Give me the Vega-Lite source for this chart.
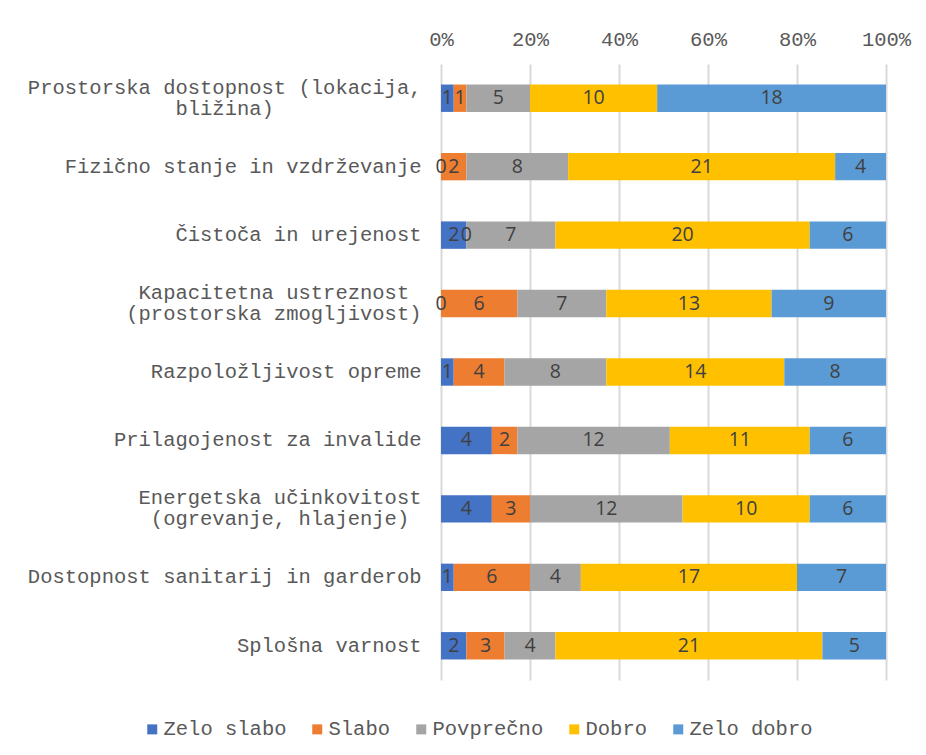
{
  "$schema": "https://vega.github.io/schema/vega-lite/v6.json",
  "width": 445,
  "height": 616,
  "autosize": {"type": "none"},
  "padding": {"left": 441, "top": 64, "right": 40, "bottom": 75},
  "background": "white",
  "config": {"view": {"stroke": null}},
  "data": {
    "values": [
      {"q": "Prostorska dostopnost (lokacija,|bližina)", "cat": "Zelo slabo", "r": 1, "v": 1},
      {"q": "Prostorska dostopnost (lokacija,|bližina)", "cat": "Slabo", "r": 2, "v": 1},
      {"q": "Prostorska dostopnost (lokacija,|bližina)", "cat": "Povprečno", "r": 3, "v": 5},
      {"q": "Prostorska dostopnost (lokacija,|bližina)", "cat": "Dobro", "r": 4, "v": 10},
      {"q": "Prostorska dostopnost (lokacija,|bližina)", "cat": "Zelo dobro", "r": 5, "v": 18},
      {"q": "Fizično stanje in vzdrževanje", "cat": "Zelo slabo", "r": 1, "v": 0},
      {"q": "Fizično stanje in vzdrževanje", "cat": "Slabo", "r": 2, "v": 2},
      {"q": "Fizično stanje in vzdrževanje", "cat": "Povprečno", "r": 3, "v": 8},
      {"q": "Fizično stanje in vzdrževanje", "cat": "Dobro", "r": 4, "v": 21},
      {"q": "Fizično stanje in vzdrževanje", "cat": "Zelo dobro", "r": 5, "v": 4},
      {"q": "Čistoča in urejenost", "cat": "Zelo slabo", "r": 1, "v": 2},
      {"q": "Čistoča in urejenost", "cat": "Slabo", "r": 2, "v": 0},
      {"q": "Čistoča in urejenost", "cat": "Povprečno", "r": 3, "v": 7},
      {"q": "Čistoča in urejenost", "cat": "Dobro", "r": 4, "v": 20},
      {"q": "Čistoča in urejenost", "cat": "Zelo dobro", "r": 5, "v": 6},
      {"q": "Kapacitetna ustreznost|(prostorska zmogljivost)", "cat": "Zelo slabo", "r": 1, "v": 0},
      {"q": "Kapacitetna ustreznost|(prostorska zmogljivost)", "cat": "Slabo", "r": 2, "v": 6},
      {"q": "Kapacitetna ustreznost|(prostorska zmogljivost)", "cat": "Povprečno", "r": 3, "v": 7},
      {"q": "Kapacitetna ustreznost|(prostorska zmogljivost)", "cat": "Dobro", "r": 4, "v": 13},
      {"q": "Kapacitetna ustreznost|(prostorska zmogljivost)", "cat": "Zelo dobro", "r": 5, "v": 9},
      {"q": "Razpoložljivost opreme", "cat": "Zelo slabo", "r": 1, "v": 1},
      {"q": "Razpoložljivost opreme", "cat": "Slabo", "r": 2, "v": 4},
      {"q": "Razpoložljivost opreme", "cat": "Povprečno", "r": 3, "v": 8},
      {"q": "Razpoložljivost opreme", "cat": "Dobro", "r": 4, "v": 14},
      {"q": "Razpoložljivost opreme", "cat": "Zelo dobro", "r": 5, "v": 8},
      {"q": "Prilagojenost za invalide", "cat": "Zelo slabo", "r": 1, "v": 4},
      {"q": "Prilagojenost za invalide", "cat": "Slabo", "r": 2, "v": 2},
      {"q": "Prilagojenost za invalide", "cat": "Povprečno", "r": 3, "v": 12},
      {"q": "Prilagojenost za invalide", "cat": "Dobro", "r": 4, "v": 11},
      {"q": "Prilagojenost za invalide", "cat": "Zelo dobro", "r": 5, "v": 6},
      {"q": "Energetska učinkovitost|(ogrevanje, hlajenje)", "cat": "Zelo slabo", "r": 1, "v": 4},
      {"q": "Energetska učinkovitost|(ogrevanje, hlajenje)", "cat": "Slabo", "r": 2, "v": 3},
      {"q": "Energetska učinkovitost|(ogrevanje, hlajenje)", "cat": "Povprečno", "r": 3, "v": 12},
      {"q": "Energetska učinkovitost|(ogrevanje, hlajenje)", "cat": "Dobro", "r": 4, "v": 10},
      {"q": "Energetska učinkovitost|(ogrevanje, hlajenje)", "cat": "Zelo dobro", "r": 5, "v": 6},
      {"q": "Dostopnost sanitarij in garderob", "cat": "Zelo slabo", "r": 1, "v": 1},
      {"q": "Dostopnost sanitarij in garderob", "cat": "Slabo", "r": 2, "v": 6},
      {"q": "Dostopnost sanitarij in garderob", "cat": "Povprečno", "r": 3, "v": 4},
      {"q": "Dostopnost sanitarij in garderob", "cat": "Dobro", "r": 4, "v": 17},
      {"q": "Dostopnost sanitarij in garderob", "cat": "Zelo dobro", "r": 5, "v": 7},
      {"q": "Splošna varnost", "cat": "Zelo slabo", "r": 1, "v": 2},
      {"q": "Splošna varnost", "cat": "Slabo", "r": 2, "v": 3},
      {"q": "Splošna varnost", "cat": "Povprečno", "r": 3, "v": 4},
      {"q": "Splošna varnost", "cat": "Dobro", "r": 4, "v": 21},
      {"q": "Splošna varnost", "cat": "Zelo dobro", "r": 5, "v": 5}
    ]
  },
  "encoding": {
    "y": {
      "field": "q",
      "type": "nominal",
      "sort": null,
      "scale": {"paddingInner": 0.6, "paddingOuter": 0.3},
      "axis": {
        "title": null,
        "domain": false,
        "ticks": false,
        "labelPadding": 20,
        "labelFont": "Liberation Mono",
        "labelFontSize": 20.5,
        "labelColor": "#595959",
        "labelLimit": 500,
        "labelLineHeight": 21,
        "labelOffset": {"condition": {"test": "indexof(datum.value, '|') >= 0", "value": -10.5}, "value": 0},
        "labelExpr": "length(split(datum.label,'|')) > 1 ? ['\u200b' + pad(split(datum.label,'|')[0], max(length(split(datum.label,'|')[0]), length(split(datum.label,'|')[1])), '\u00a0', 'center') + '\u200b', '\u200b' + pad(split(datum.label,'|')[1], max(length(split(datum.label,'|')[0]), length(split(datum.label,'|')[1])), '\u00a0', 'center') + '\u200b'] : datum.label"
      }
    }
  },
  "layer": [
    {
      "mark": {"type": "bar"},
      "encoding": {
        "x": {
          "field": "v",
          "type": "quantitative",
          "stack": "normalize",
          "axis": {
            "orient": "top",
            "title": null,
            "format": ".0%",
            "values": [0, 0.2, 0.4, 0.6, 0.8, 1],
            "domain": false,
            "ticks": false,
            "labelFont": "Liberation Mono",
            "labelFontSize": 20.5,
            "labelColor": "#595959",
            "labelPadding": 15,
            "labelFlush": false,
            "grid": true,
            "gridColor": "#D9D9D9",
            "gridWidth": 2
          }
        },
        "order": {"field": "r", "type": "quantitative", "sort": "ascending"},
        "color": {
          "field": "cat",
          "type": "nominal",
          "scale": {
            "domain": ["Zelo slabo", "Slabo", "Povprečno", "Dobro", "Zelo dobro"],
            "range": ["#4472C4", "#ED7D31", "#A5A5A5", "#FFC000", "#5B9BD5"]
          },
          "legend": {
            "title": null,
            "orient": "none",
            "direction": "horizontal",
            "legendX": -299,
            "legendY": 655,
            "symbolType": "square",
            "symbolSize": 100,
            "symbolStrokeWidth": 0,
            "labelFont": "Liberation Mono",
            "labelFontSize": 20.5,
            "labelColor": "#595959",
            "labelOffset": 1,
            "columnPadding": 20
          }
        }
      }
    },
    {
      "mark": {"type": "text", "font": "Open Sans", "fontSize": 19.5, "color": "#404040"},
      "encoding": {
        "x": {"field": "v", "type": "quantitative", "stack": "normalize", "bandPosition": 0.5},
        "detail": {"field": "cat", "type": "nominal"},
        "order": {"field": "r", "type": "quantitative", "sort": "ascending"},
        "text": {"field": "v", "type": "quantitative"}
      }
    }
  ]
}
